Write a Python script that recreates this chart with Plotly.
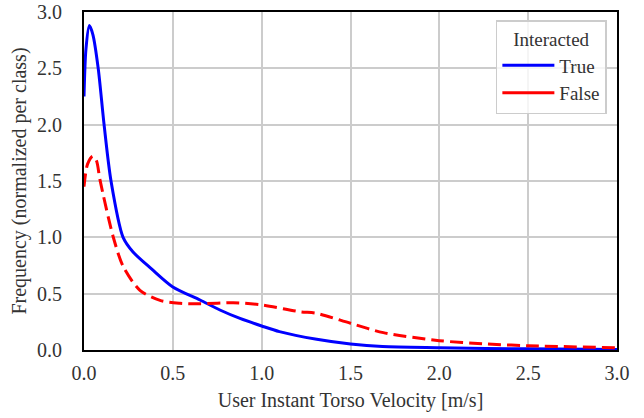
import plotly.graph_objects as go

true_x = [0, 0.011, 0.03, 0.05, 0.08, 0.113, 0.152, 0.22, 0.276, 0.38, 0.5, 0.653, 0.765, 0.878, 1.0, 1.10, 1.31, 1.50, 1.68, 2.0, 2.5, 3.0]
true_y = [2.25, 2.67, 2.88, 2.80, 2.5, 2.0, 1.5, 1.0, 0.87, 0.72, 0.56, 0.444, 0.355, 0.28, 0.213, 0.163, 0.095, 0.053, 0.03, 0.02, 0.01, 0.005]

false_x = [0, 0.02, 0.049, 0.07, 0.09, 0.165, 0.221, 0.315, 0.428, 0.54, 0.653, 0.84, 1.0, 1.215, 1.31, 1.50, 1.685, 2.0, 2.27, 2.5, 3.0]
false_y = [1.45, 1.65, 1.72, 1.68, 1.51, 1.0, 0.74, 0.53, 0.44, 0.415, 0.41, 0.42, 0.40, 0.34, 0.325, 0.237, 0.154, 0.083, 0.053, 0.038, 0.02]

x_ticks = [0.0, 0.5, 1.0, 1.5, 2.0, 2.5, 3.0]
y_ticks = [0.0, 0.5, 1.0, 1.5, 2.0, 2.5, 3.0]

FONT = "Liberation Serif"
BLUE = "#0000ff"
RED = "#ff0000"

fig = go.Figure()
fig.add_trace(go.Scatter(x=true_x, y=true_y, mode="lines", name="True", showlegend=False,
                         line=dict(color=BLUE, width=3, shape="spline", smoothing=0.8)))
fig.add_trace(go.Scatter(x=false_x, y=false_y, mode="lines", name="False", showlegend=False,
                         line=dict(color=RED, width=3, dash="13px,6px", shape="spline", smoothing=0.8)))
# legend entries (solid line samples, as in the reference legend)
fig.add_trace(go.Scatter(x=[None], y=[None], mode="lines", name="True",
                         line=dict(color=BLUE, width=3)))
fig.add_trace(go.Scatter(x=[None], y=[None], mode="lines", name="False",
                         line=dict(color=RED, width=3)))

axis_common = dict(showgrid=True, gridcolor="#cccccc", gridwidth=1.5,
                   showline=True, linecolor="black", linewidth=2, mirror=True,
                   ticks="", zeroline=False, automargin=False,
                   tickfont=dict(family=FONT, size=20, color="#333333"))

fig.update_layout(
    width=644, height=418,
    margin=dict(l=84, r=27, t=12, b=68),
    paper_bgcolor="white", plot_bgcolor="white",
    font=dict(family=FONT, size=20, color="#333333"),
    xaxis=dict(range=[0, 3.0], tickvals=x_ticks, ticktext=[f"{v:.1f}" for v in x_ticks],
               ticklabelstandoff=4,
               title=dict(text="User Instant Torso Velocity [m/s]", font=dict(family=FONT, size=20), standoff=10),
               **axis_common),
    yaxis=dict(range=[0, 3.0], tickvals=y_ticks, ticktext=[f"{v:.1f}" for v in y_ticks],
               ticklabelstandoff=16,
               title=dict(text="Frequency (normalized per class)", font=dict(family=FONT, size=20), standoff=5),
               **axis_common),
    legend=dict(title=dict(text="Interacted", side="top center", font=dict(family=FONT, size=19)),
                x=0.981, y=0.976, xanchor="right", yanchor="top",
                bgcolor="rgba(255,255,255,0.8)", bordercolor="#cccccc", borderwidth=1.5,
                font=dict(family=FONT, size=19), itemwidth=52),
    showlegend=True,
)

fig.write_html("out.html", config={"displayModeBar": False},
               post_script="document.body.style.margin='0';")
